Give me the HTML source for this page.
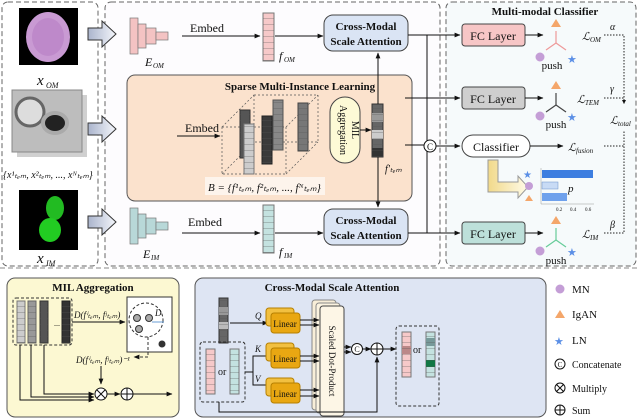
<!DOCTYPE html>
<html><head><meta charset="utf-8"><style>
html,body{margin:0;padding:0;background:#fff}
svg{display:block}
text{font-family:"Liberation Serif",serif;fill:#111}
.b{font-weight:bold}
.i{font-style:italic}
</style></head><body>
<svg width="640" height="420" viewBox="0 0 640 420" xmlns="http://www.w3.org/2000/svg">
<defs>
<pattern id="c6" width="10" height="6" patternUnits="userSpaceOnUse"><line x1="0" y1="0" x2="10" y2="0" stroke="#555" stroke-width="0.6"/></pattern>
<marker id="ar" viewBox="0 0 10 10" refX="9" refY="5" markerWidth="6" markerHeight="6" orient="auto"><path d="M0,1 L10,5 L0,9z" fill="#111"/></marker>
<linearGradient id="ga" x1="0" x2="1"><stop offset="0" stop-color="#aab4cc"/><stop offset="1" stop-color="#f4f6fb"/></linearGradient>
<linearGradient id="gy" x1="0" x2="1"><stop offset="0" stop-color="#f1d98a"/><stop offset="1" stop-color="#fffbe8"/></linearGradient>
</defs>

<rect x="2" y="2" width="96" height="264" rx="6" fill="#fff" stroke="#666" stroke-dasharray="5,3"/>
<rect x="105" y="2" width="335" height="264" rx="6" fill="#fdfcfe" stroke="#666" stroke-dasharray="5,3"/>
<rect x="446" y="2" width="190" height="264" rx="6" fill="#f6fafb" stroke="#666" stroke-dasharray="5,3"/>
<line x1="0" y1="268" x2="640" y2="268" stroke="#888" stroke-dasharray="5,3"/>

<rect x="19" y="8" width="59" height="57" fill="#000"/>
<ellipse cx="48" cy="37" rx="22" ry="25" fill="#c99ad3"/>
<ellipse cx="48" cy="37" rx="16" ry="19" fill="#b77fc4" opacity="0.6"/>
<text x="37" y="85" font-size="15" class="i">x</text><text x="46" y="88" font-size="8" class="i">OM</text>
<rect x="17" y="95" width="70" height="62" fill="#d0d0d0"/>
<rect x="12" y="90" width="70" height="62" fill="#bdbdbd" stroke="#888"/>
<ellipse cx="30" cy="112" rx="14" ry="14" fill="#ddd" stroke="#666" stroke-width="3"/>
<ellipse cx="55" cy="123" rx="12" ry="10" fill="#222" stroke="#aaa" stroke-width="4"/>
<text x="3" y="178" font-size="10" class="i">{x¹ₜₑₘ, x²ₜₑₘ, ..., xᴺₜₑₘ}</text>
<rect x="19" y="190" width="59" height="60" fill="#000"/>
<ellipse cx="55" cy="208" rx="9" ry="12" fill="#22bb22"/>
<ellipse cx="50" cy="230" rx="11" ry="12" fill="#22cc22"/>
<text x="37" y="263" font-size="15" class="i">x</text><text x="46" y="266" font-size="8" class="i">IM</text>

<g fill="url(#ga)" stroke="#333" stroke-width="1">
<path d="M88,28 h14 v-7 l14,13 l-14,13 v-7 h-14z"/>
<path d="M88,123 h14 v-7 l14,13 l-14,13 v-7 h-14z"/>
<path d="M88,216 h14 v-7 l14,13 l-14,13 v-7 h-14z"/>
</g>

<g stroke="#777" stroke-width="0.7">
<g fill="#f4c3c3"><rect x="130" y="18" width="8" height="36"/><rect x="138" y="24" width="8" height="24"/><rect x="146" y="28" width="10" height="16"/><rect x="156" y="32" width="12" height="8"/></g>
<g fill="#c8c8c8"><rect x="133" y="118" width="8" height="36"/><rect x="141" y="124" width="8" height="24"/><rect x="149" y="128" width="10" height="16"/><rect x="159" y="132" width="12" height="8"/></g>
<g fill="#b8d8d8"><rect x="130" y="208" width="8" height="36"/><rect x="138" y="214" width="8" height="24"/><rect x="146" y="218" width="10" height="16"/><rect x="156" y="222" width="12" height="8"/></g>
</g>
<text x="145" y="66" font-size="12" class="i">E</text><text x="153" y="68" font-size="7" class="i">OM</text>
<text x="140" y="178" font-size="12" class="i">E</text><text x="148" y="180" font-size="7" class="i">TEM</text>
<text x="143" y="258" font-size="12" class="i">E</text><text x="151" y="260" font-size="7" class="i">IM</text>

<text x="190" y="32" font-size="12">Embed</text>
<line x1="182" y1="36" x2="260" y2="36" stroke="#111" marker-end="url(#ar)"/>
<text x="188" y="226" font-size="12">Embed</text>
<line x1="182" y1="233" x2="260" y2="233" stroke="#111" marker-end="url(#ar)"/>

<rect x="263" y="13" width="11" height="48" fill="#f6c9c9" stroke="#777"/><rect x="263" y="13" width="11" height="48" fill="url(#c6)"/>
<text x="279" y="60" font-size="12" class="i">f</text><text x="284" y="62" font-size="7" class="i">OM</text>
<rect x="263" y="205" width="11" height="48" fill="#c4e2e0" stroke="#777"/><rect x="263" y="205" width="11" height="48" fill="url(#c6)"/>
<text x="279" y="256" font-size="12" class="i">f</text><text x="284" y="258" font-size="7" class="i">IM</text>
<line x1="275" y1="36" x2="323" y2="36" stroke="#111" marker-end="url(#ar)"/>
<line x1="275" y1="233" x2="323" y2="233" stroke="#111" marker-end="url(#ar)"/>

<rect x="324" y="15" width="84" height="36" rx="9" fill="#dae4f4" stroke="#444"/>
<text x="366" y="30" font-size="11" class="b" text-anchor="middle">Cross-Modal</text>
<text x="366" y="45" font-size="11" class="b" text-anchor="middle">Scale Attention</text>
<rect x="324" y="209" width="84" height="36" rx="9" fill="#dae4f4" stroke="#444"/>
<text x="366" y="224" font-size="11" class="b" text-anchor="middle">Cross-Modal</text>
<text x="366" y="239" font-size="11" class="b" text-anchor="middle">Scale Attention</text>

<rect x="127" y="75" width="285" height="126" rx="8" fill="#fbe2cd" stroke="#555"/>
<text x="300" y="90" font-size="11" class="b" text-anchor="middle">Sparse Multi-Instance Learning</text>
<text x="185" y="132" font-size="12">Embed</text>
<line x1="177" y1="136" x2="220" y2="136" stroke="#111" marker-end="url(#ar)"/>
<g fill="none" stroke="#555" stroke-dasharray="2,2" stroke-width="0.7">
<rect x="222" y="127" width="64" height="47"/><rect x="254" y="95" width="64" height="47"/>
<line x1="222" y1="127" x2="254" y2="95"/><line x1="286" y1="127" x2="318" y2="95"/><line x1="222" y1="174" x2="254" y2="142"/><line x1="286" y1="174" x2="318" y2="142"/>
</g>
<rect x="240" y="110" width="10" height="48" fill="#555" stroke="#333"/><rect x="240" y="110" width="10" height="48" fill="url(#c6)"/>
<rect x="244" y="124" width="10" height="50" fill="#ccc" stroke="#777"/><rect x="244" y="124" width="10" height="50" fill="url(#c6)"/>
<rect x="262" y="116" width="10" height="48" fill="#3a3a3a" stroke="#222"/><rect x="262" y="116" width="10" height="48" fill="url(#c6)"/>
<rect x="273" y="100" width="10" height="50" fill="#888" stroke="#555"/><rect x="273" y="100" width="10" height="50" fill="url(#c6)"/>
<rect x="298" y="103" width="10" height="48" fill="#777" stroke="#444"/><rect x="298" y="103" width="10" height="48" fill="url(#c6)"/>
<rect x="205" y="177" width="120" height="18" fill="#fdf4ec"/>
<text x="208" y="191" font-size="11" class="i">B = {f¹ₜₑₘ, f²ₜₑₘ, ..., fᴺₜₑₘ}</text>
<rect x="330" y="97" width="30" height="66" rx="15" fill="#fdfad6" stroke="#444"/>
<text transform="translate(352,130) rotate(90)" font-size="10" text-anchor="middle">MIL</text>
<text transform="translate(340,130) rotate(90)" font-size="10" text-anchor="middle">Aggregation</text>
<line x1="360" y1="130" x2="371" y2="130" stroke="#111" marker-end="url(#ar)"/>
<rect x="372" y="104" width="11" height="53" fill="#666" stroke="#333"/>
<rect x="372" y="113" width="11" height="9" fill="#999"/><rect x="372" y="130" width="11" height="9" fill="#ccc"/><rect x="372" y="148" width="11" height="9" fill="#333"/>
<rect x="372" y="104" width="11" height="53" fill="url(#c6)"/>
<text x="385" y="172" font-size="10" class="i">f'ₜₑₘ</text>
<line x1="378" y1="104" x2="378" y2="53" stroke="#111" marker-end="url(#ar)"/>
<line x1="378" y1="157" x2="378" y2="207" stroke="#111" marker-end="url(#ar)"/>

<line x1="408" y1="35" x2="460" y2="35" stroke="#111" marker-end="url(#ar)"/>
<line x1="408" y1="233" x2="460" y2="233" stroke="#111" marker-end="url(#ar)"/>
<line x1="427" y1="35" x2="427" y2="233" stroke="#111"/>
<line x1="405" y1="98" x2="460" y2="98" stroke="#111" marker-end="url(#ar)"/>
<line x1="405" y1="145" x2="424" y2="145" stroke="#111"/>
<circle cx="430" cy="146" r="6" fill="#fff" stroke="#111"/><text x="430" y="150" font-size="9" text-anchor="middle">C</text>
<line x1="436" y1="146" x2="460" y2="146" stroke="#111" marker-end="url(#ar)"/>

<text x="545" y="15" font-size="11" class="b" text-anchor="middle">Multi-modal Classifier</text>
<rect x="462" y="24" width="63" height="22" rx="3" fill="#f7c6c6" stroke="#444"/><text x="493" y="40" font-size="12" text-anchor="middle">FC Layer</text>
<rect x="462" y="87" width="63" height="22" rx="3" fill="#cfcfcf" stroke="#444"/><text x="493" y="103" font-size="12" text-anchor="middle">FC Layer</text>
<rect x="462" y="135" width="68" height="22" rx="11" fill="#fff" stroke="#444"/><text x="496" y="151" font-size="12" text-anchor="middle">Classifier</text>
<rect x="462" y="222" width="63" height="22" rx="3" fill="#bde0da" stroke="#444"/><text x="493" y="238" font-size="12" text-anchor="middle">FC Layer</text>
<line x1="525" y1="35" x2="543" y2="35" stroke="#111" marker-end="url(#ar)"/>
<line x1="525" y1="98" x2="543" y2="98" stroke="#111" marker-end="url(#ar)"/>
<line x1="530" y1="146" x2="563" y2="146" stroke="#111" marker-end="url(#ar)"/>
<line x1="525" y1="233" x2="543" y2="233" stroke="#111" marker-end="url(#ar)"/>

<g stroke-width="1.2">
<g stroke="#e99"><line x1="556" y1="43" x2="556" y2="31"/><line x1="556" y1="43" x2="546" y2="50"/><line x1="556" y1="43" x2="566" y2="50"/></g>
<g stroke="#444"><line x1="556" y1="105" x2="556" y2="93"/><line x1="556" y1="105" x2="546" y2="112"/><line x1="556" y1="105" x2="566" y2="112"/></g>
<g stroke="#6c9"><line x1="556" y1="240" x2="556" y2="228"/><line x1="556" y1="240" x2="546" y2="247"/><line x1="556" y1="240" x2="566" y2="247"/></g>
</g>
<g fill="#f4a66a"><path d="M556,19 l5,8 h-10z"/><path d="M556,81 l5,8 h-10z"/><path d="M556,216 l5,8 h-10z"/></g>
<g fill="#c49ed6"><circle cx="540" cy="57" r="4.5"/><circle cx="540" cy="116" r="4.5"/><circle cx="540" cy="251" r="4.5"/></g>
<g font-size="11"><text x="567" y="63" style="fill:#5b8fe6">★</text><text x="567" y="121" style="fill:#5b8fe6">★</text><text x="567" y="256" style="fill:#5b8fe6">★</text></g>
<text x="552" y="69" font-size="11" text-anchor="middle">push</text>
<text x="556" y="128" font-size="11" text-anchor="middle">push</text>
<text x="556" y="264" font-size="11" text-anchor="middle">push</text>

<text x="582" y="40" font-size="11" class="i">ℒ</text><text x="590" y="42" font-size="7" class="i">OM</text>
<text x="577" y="103" font-size="11" class="i">ℒ</text><text x="585" y="105" font-size="7" class="i">TEM</text>
<text x="568" y="151" font-size="11" class="i">ℒ</text><text x="576" y="153" font-size="7" class="i">fusion</text>
<text x="582" y="238" font-size="11" class="i">ℒ</text><text x="590" y="240" font-size="7" class="i">IM</text>
<text x="610" y="124" font-size="11" class="i">ℒ</text><text x="618" y="126" font-size="7" class="i">total</text>
<text x="610" y="30" font-size="10" class="i">α</text><text x="610" y="92" font-size="10" class="i">γ</text><text x="610" y="228" font-size="10" class="i">β</text>
<g stroke="#222" stroke-dasharray="1.5,1.5" fill="none">
<path d="M604,35 h20 v70"/><path d="M604,98 h20"/><path d="M604,146 h20 v-16"/><path d="M604,233 h20 v-103"/>
</g>
<path d="M624,104 l-2,-4 h4z" fill="#111"/>

<path d="M488,160 h10 v22 h20 v-6 l10,11 l-10,11 v-6 h-30z" fill="url(#gy)" stroke="#999"/>
<text x="523" y="178" font-size="10" style="fill:#5b8fe6">★</text><circle cx="529" cy="186" r="4" fill="#c49ed6"/><path d="M529,195 l4,6 h-8z" fill="#f4a66a"/>
<line x1="541" y1="168" x2="541" y2="204" stroke="#999" stroke-width="0.5"/><line x1="541" y1="204" x2="594" y2="204" stroke="#999" stroke-width="0.5"/>
<rect x="542" y="170" width="51" height="8" fill="#3d7ee0"/>
<rect x="542" y="182" width="16" height="7" fill="#c8dbf5" stroke="#6a8fc8" stroke-width="0.5"/>
<rect x="542" y="193" width="25" height="8" fill="#6fa1ec"/>
<text x="568" y="192" font-size="11" class="i">p</text>
<text x="556" y="211" font-size="5">0.2</text><text x="570" y="211" font-size="5">0.4</text><text x="585" y="211" font-size="5">0.6</text>

<rect x="7" y="278" width="172" height="139" rx="8" fill="#fcf8d2" stroke="#555"/>
<text x="93" y="291" font-size="11" class="b" text-anchor="middle">MIL Aggregation</text>
<rect x="13" y="298" width="59" height="47" rx="3" fill="none" stroke="#333" stroke-dasharray="3,2"/>
<rect x="17" y="301" width="8" height="42" fill="#ccc" stroke="#777"/><rect x="17" y="301" width="8" height="42" fill="url(#c6)"/>
<rect x="28" y="301" width="8" height="42" fill="#999" stroke="#666"/><rect x="28" y="301" width="8" height="42" fill="url(#c6)"/>
<rect x="40" y="301" width="8" height="42" fill="#555" stroke="#333"/><rect x="40" y="301" width="8" height="42" fill="url(#c6)"/>
<text x="54" y="326" font-size="8">...</text>
<rect x="62" y="301" width="8" height="42" fill="#333" stroke="#222"/><rect x="62" y="301" width="8" height="42" fill="url(#c6)"/>
<text x="74" y="318" font-size="9" class="i">D(fⁱₜₑₘ, fʲₜₑₘ)</text>
<line x1="72" y1="322" x2="125" y2="322" stroke="#111" marker-end="url(#ar)"/>
<rect x="127" y="297" width="45" height="55" fill="#fff" stroke="#333"/>
<circle cx="146" cy="320" r="17" fill="none" stroke="#333" stroke-dasharray="3,2"/>
<circle cx="137" cy="318" r="3.5" fill="#aaa" stroke="#333"/><circle cx="139" cy="329" r="3.5" fill="#aaa" stroke="#333"/><circle cx="149" cy="318" r="3.5" fill="#aaa" stroke="#333"/>
<circle cx="162" cy="344" r="3.5" fill="#333"/>
<line x1="152" y1="322" x2="164" y2="322" stroke="#6a9ed6"/>
<text x="155" y="316" font-size="9" class="i">D</text>
<path d="M148,337 v20 h-14" fill="none" stroke="#333" stroke-dasharray="3,2" marker-end="url(#ar)"/>
<text x="76" y="363" font-size="9" class="i">D(fⁱₜₑₘ, fʲₜₑₘ)⁻¹</text>
<line x1="101" y1="366" x2="101" y2="384" stroke="#111" marker-end="url(#ar)"/>
<path d="M20,345 v55 h74" fill="none" stroke="#111" marker-end="url(#ar)"/>
<path d="M31,345 v52 h63" fill="none" stroke="#111" marker-end="url(#ar)"/>
<path d="M44,345 v49 h50" fill="none" stroke="#111" marker-end="url(#ar)"/>
<circle cx="101" cy="394" r="6" fill="#fff" stroke="#111"/><path d="M97,390 l8,8 M105,390 l-8,8" stroke="#111"/>
<line x1="107" y1="394" x2="120" y2="394" stroke="#111" marker-end="url(#ar)"/>
<circle cx="127" cy="394" r="6" fill="#fff" stroke="#111"/><path d="M121,394 h12 M127,388 v12" stroke="#111"/>
<line x1="133" y1="394" x2="172" y2="394" stroke="#111" marker-end="url(#ar)"/>

<rect x="195" y="278" width="351" height="139" rx="8" fill="#dee5f3" stroke="#555"/>
<text x="332" y="291" font-size="11" class="b" text-anchor="middle">Cross-Modal Scale Attention</text>
<rect x="219" y="298" width="9" height="45" fill="#666" stroke="#333"/><rect x="219" y="307" width="9" height="8" fill="#999"/><rect x="219" y="322" width="9" height="7" fill="#bbb"/><rect x="219" y="298" width="9" height="45" fill="url(#c6)"/>
<text x="255" y="319" font-size="9" class="i">Q</text>
<line x1="230" y1="323" x2="268" y2="323" stroke="#111" marker-end="url(#ar)"/>
<rect x="200" y="342" width="45" height="60" rx="3" fill="none" stroke="#333" stroke-dasharray="3,2"/>
<rect x="206" y="349" width="9" height="45" fill="#f6c9c9" stroke="#777"/><rect x="206" y="349" width="9" height="45" fill="url(#c6)"/>
<text x="218" y="375" font-size="10">or</text>
<rect x="230" y="349" width="9" height="45" fill="#c4e2e0" stroke="#777"/><rect x="230" y="349" width="9" height="45" fill="url(#c6)"/>
<path d="M245,372 h8 v-16 h14 M253,372 v13 h14" fill="none" stroke="#111"/>
<text x="255" y="352" font-size="9" class="i">K</text><text x="255" y="382" font-size="9" class="i">V</text>
<g fill="#e9a712" stroke="#b57f00">
<rect x="266" y="308" width="28" height="18" rx="3" fill="#f2c040"/><rect x="271" y="313" width="29" height="20" rx="3"/>
<rect x="266" y="343" width="28" height="18" rx="3" fill="#f2c040"/><rect x="271" y="348" width="29" height="20" rx="3"/>
<rect x="266" y="378" width="28" height="18" rx="3" fill="#f2c040"/><rect x="271" y="383" width="29" height="20" rx="3"/>
</g>
<text x="285" y="327" font-size="9" text-anchor="middle">Linear</text><text x="285" y="362" font-size="9" text-anchor="middle">Linear</text><text x="285" y="397" font-size="9" text-anchor="middle">Linear</text>
<rect x="312" y="300" width="24" height="110" rx="3" fill="#f8eed8" stroke="#888"/>
<rect x="316" y="303" width="24" height="110" rx="3" fill="#fbf3e0" stroke="#888"/>
<rect x="320" y="306" width="24" height="110" rx="3" fill="#fdf6e6" stroke="#444"/>
<text transform="translate(329,361) rotate(90)" font-size="9" text-anchor="middle">Scaled Dot-Product</text>
<g stroke="#111" marker-end="url(#ar)">
<line x1="300" y1="320" x2="319" y2="320"/><line x1="300" y1="325" x2="319" y2="325"/><line x1="300" y1="356" x2="319" y2="356"/><line x1="300" y1="361" x2="319" y2="361"/><line x1="300" y1="390" x2="319" y2="390"/><line x1="300" y1="396" x2="319" y2="396"/>
<line x1="344" y1="347" x2="351" y2="347"/><line x1="344" y1="352" x2="351" y2="352"/>
</g>
<circle cx="357" cy="349" r="5.5" fill="#fff" stroke="#111"/><text x="357" y="352" font-size="8" text-anchor="middle">C</text>
<line x1="362" y1="349" x2="371" y2="349" stroke="#111" marker-end="url(#ar)"/>
<circle cx="377" cy="349" r="6" fill="#fff" stroke="#111"/><path d="M371,349 h12 M377,343 v12" stroke="#111"/>
<line x1="383" y1="349" x2="396" y2="349" stroke="#111" marker-end="url(#ar)"/>
<path d="M219,402 v10 h158 v-55" fill="none" stroke="#111" marker-end="url(#ar)"/>
<rect x="396" y="326" width="43" height="80" rx="3" fill="none" stroke="#333" stroke-dasharray="3,2"/>
<rect x="402" y="332" width="9" height="45" fill="#f6c9c9" stroke="#777"/><rect x="402" y="346" width="9" height="8" fill="#b88"/><rect x="402" y="332" width="9" height="45" fill="url(#c6)"/>
<text x="413" y="353" font-size="10">or</text>
<rect x="426" y="332" width="9" height="45" fill="#c4e2e0" stroke="#777"/><rect x="426" y="338" width="9" height="8" fill="#799"/><rect x="426" y="360" width="9" height="7" fill="#174"/><rect x="426" y="332" width="9" height="45" fill="url(#c6)"/>

<circle cx="560" cy="289" r="4.5" fill="#c49ed6"/><text x="572" y="293" font-size="11">MN</text>
<path d="M560,310 l5,8 h-10z" fill="#f4a66a"/><text x="572" y="318" font-size="11">IgAN</text>
<text x="554" y="345" font-size="11" style="fill:#5b8fe6">★</text><text x="572" y="344" font-size="11">LN</text>
<circle cx="560" cy="364" r="5" fill="#fff" stroke="#111"/><text x="560" y="367" font-size="7" text-anchor="middle">C</text><text x="572" y="368" font-size="10">Concatenate</text>
<circle cx="560" cy="388" r="5" fill="#fff" stroke="#111"/><path d="M556.5,384.5 l7,7 M563.5,384.5 l-7,7" stroke="#111"/><text x="572" y="392" font-size="10">Multiply</text>
<circle cx="560" cy="410" r="5" fill="#fff" stroke="#111"/><path d="M555,410 h10 M560,405 v10" stroke="#111"/><text x="572" y="414" font-size="10">Sum</text>
</svg>
</body></html>
